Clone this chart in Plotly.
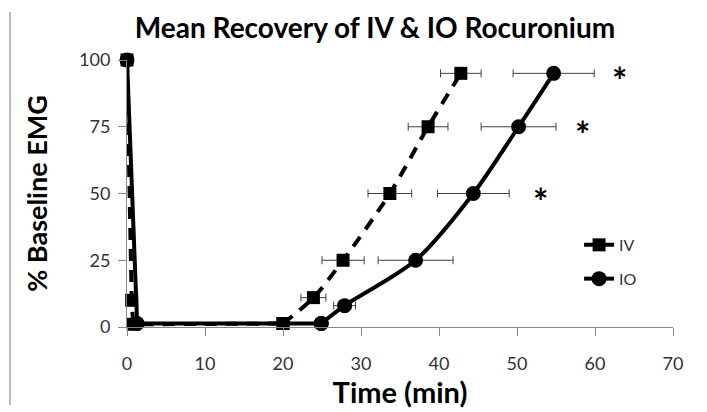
import plotly.graph_objects as go

# ---- data ----
iv_time = [0, 0.6, 0.8, 20, 23.9, 27.7, 33.7, 38.6, 42.8]
iv_emg = [100, 10, 1, 1.3, 11, 25, 50, 75, 95]
iv_err = [None, None, None, None, 1.6, 2.7, 2.8, 2.55, 2.6]

io_time = [0, 1.3, 24.9, 27.9, 37.0, 44.4, 50.2, 54.7]
io_emg = [100, 1.3, 1.3, 8, 25, 50, 75, 95]
io_err = [None, None, None, 1.4, 4.8, 4.6, 4.8, 5.2]

sig_time = [52.8, 58.1, 62.9]
sig_emg = [50, 75, 95]

x_ticks = [0, 10, 20, 30, 40, 50, 60, 70]
y_ticks = [0, 25, 50, 75, 100]

FONT = "Lato"
AXIS_GRAY = "#868686"

fig = go.Figure()


def add_series(t, v, err, name, symbol, msize, dash, split):
    # blockade phase (straight segments)
    fig.add_trace(go.Scatter(
        x=t[:split + 1], y=v[:split + 1], name=name, mode="lines+markers",
        line=dict(color="black", width=4, dash=dash, shape="linear"),
        marker=dict(symbol=symbol, size=msize, color="black"),
        cliponaxis=False, showlegend=False, legendgroup=name,
    ))
    # recovery phase (smoothed)
    fig.add_trace(go.Scatter(
        x=t[split:], y=v[split:], name=name, mode="lines+markers",
        line=dict(color="black", width=4, dash=dash, shape="spline", smoothing=0.8),
        marker=dict(symbol=symbol, size=msize, color="black"),
        error_x=dict(type="data", array=err[split:], visible=True,
                     color="#404040", thickness=1, width=4),
        cliponaxis=False, legendgroup=name,
    ))


add_series(iv_time, iv_emg, iv_err, "IV", "square", 13, "12px,9px", 3)
add_series(io_time, io_emg, io_err, "IO", "circle", 15, "solid", 2)

for tx, ty in zip(sig_time, sig_emg):
    fig.add_annotation(x=tx, y=ty, text="<b>*</b>", showarrow=False,
                       font=dict(family=FONT, size=36, color="black"),
                       xanchor="center", yanchor="middle", yshift=-7, xshift=2)

fig.add_shape(type="line", xref="paper", yref="paper",
              x0=-0.2143, x1=-0.2143, y0=-0.292, y1=1.18,
              line=dict(color="#a6a6a6", width=1.5))

axis_common = dict(
    showline=True, linecolor=AXIS_GRAY, linewidth=1,
    ticks="outside", tickcolor=AXIS_GRAY, ticklen=8, tickwidth=1,
    showgrid=False, zeroline=False, automargin=False,
    tickfont=dict(family=FONT, size=18, color="#333333"),
)

fig.update_xaxes(range=[0, 70], tickvals=x_ticks, ticklabelstandoff=12,
                 title=dict(text="<b>Time (min)</b>", font=dict(family=FONT, size=29, color="black"), standoff=7),
                 **axis_common)
fig.update_yaxes(range=[0, 100], tickvals=y_ticks, ticklabelstandoff=4,
                 title=dict(text="<b>% Baseline EMG</b>", font=dict(family=FONT, size=27, color="black"), standoff=23),
                 **axis_common)

fig.update_layout(
    width=707, height=412,
    margin=dict(l=127, r=34, t=60, b=85),
    paper_bgcolor="white", plot_bgcolor="white",
    title=dict(text="<b>Mean Recovery of IV &amp; IO Rocuronium</b>",
               font=dict(family=FONT, size=28, color="black"),
               x=375/707, xanchor="center", xref="container",
               y=1 - 28/412, yanchor="middle", yref="container", automargin=False),
    showlegend=True,
    legend=dict(x=0.828, y=0.371, xanchor="left", yanchor="top",
                font=dict(family=FONT, size=16, color="#333333"),
                bgcolor="rgba(0,0,0,0)", tracegroupgap=10, traceorder="grouped"),
)

fig.write_html("out.html", config={"displayModeBar": False},
               post_script="document.body.style.margin='0';")
